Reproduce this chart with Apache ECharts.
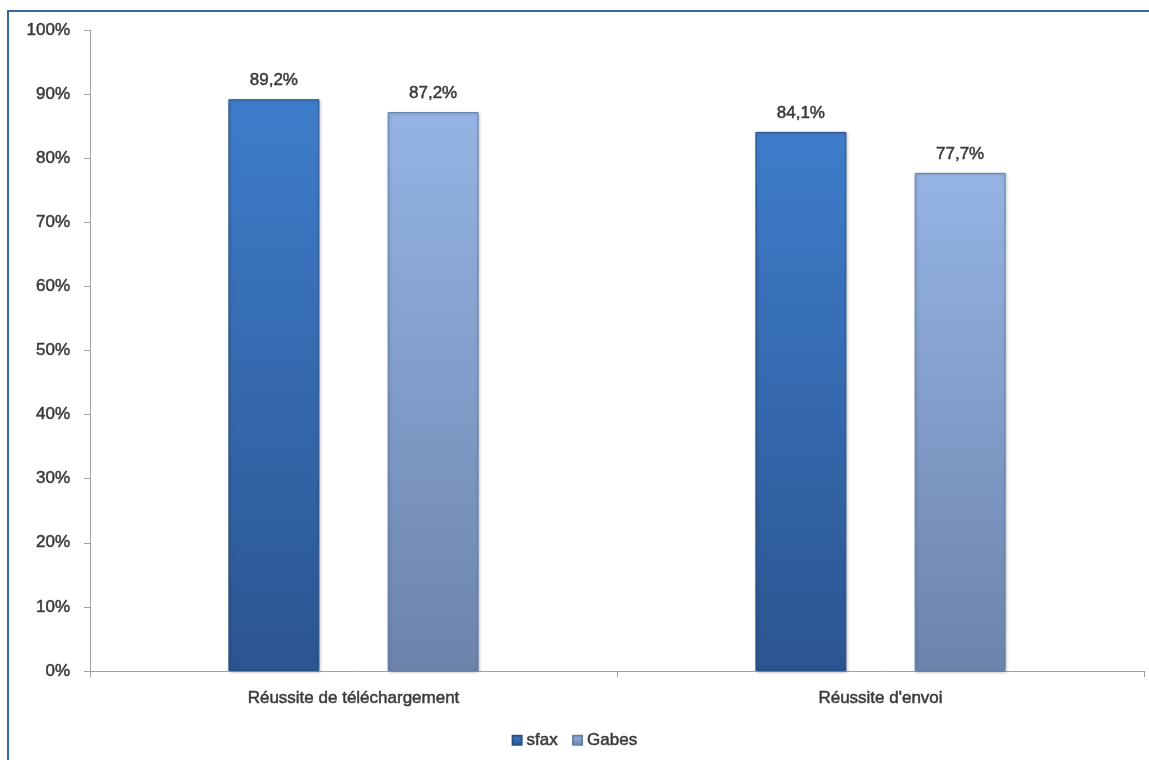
<!DOCTYPE html>
<html><head><meta charset="utf-8">
<script src="https://cdn.jsdelivr.net/npm/echarts@6/dist/echarts.min.js"></script>
<style>html,body{margin:0;padding:0;background:#fff}#c{width:1149px;height:760px}</style>
</head><body><div id="c"></div>
<script>
const categories = ["Réussite de téléchargement", "Réussite d'envoi"];
const sfax = [89.2, 84.1];
const gabes = [87.2, 77.7];
const yTicks = [0,10,20,30,40,50,60,70,80,90,100];

const chart = echarts.init(document.getElementById('c'));
const fmt = v => v.toFixed(1).replace('.', ',') + '%';
function grad(top, bottom){
  return new echarts.graphic.LinearGradient(0,0,0,1,[{offset:0,color:top},{offset:1,color:bottom}]);
}
const font = 'Liberation Sans, Arial, sans-serif';
const txt = {fontFamily:font,fontSize:17,fontWeight:'normal',color:'#3a3a3a',textBorderColor:'#3a3a3a',textBorderWidth:0.5};
chart.setOption({
  animation:false,
  backgroundColor:'#fff',
  graphic:[{type:'rect',shape:{x:8,y:11,width:1200,height:800},style:{fill:'none',stroke:'#3A64A3',lineWidth:2},z:100}],
  grid:{left:90,right:5,top:30,bottom:89},
  legend:{bottom:6,left:'center',icon:'rect',itemWidth:9,itemHeight:9,itemGap:14,
    textStyle:Object.assign({},txt,{padding:[0,0,0,0]}),
    data:['sfax','Gabes']},
  xAxis:{type:'category',data:categories,
    axisLine:{lineStyle:{color:'#A0A0A0'}},
    axisTick:{show:true,length:6,lineStyle:{color:'#A0A0A0'}},
    axisLabel:Object.assign({},txt,{margin:19})},
  yAxis:{type:'value',min:0,max:100,interval:10,
    axisLine:{show:true,lineStyle:{color:'#A0A0A0'}},
    axisTick:{show:true,length:6,lineStyle:{color:'#A0A0A0'}},
    splitLine:{show:false},
    axisLabel:Object.assign({},txt,{margin:20,formatter:v=>v+'%'})},
  series:[
    {name:'sfax',type:'bar',data:sfax,barWidth:91,barGap:'75%',
     itemStyle:{color:grad('#3E7DCB','#2B5590'),borderColor:'#2A5089',borderWidth:1,shadowColor:'rgba(0,0,0,0.25)',shadowBlur:3,shadowOffsetX:1,shadowOffsetY:1},
     label:Object.assign({show:true,position:'top',distance:10,formatter:p=>fmt(p.value)},txt)},
    {name:'Gabes',type:'bar',data:gabes,barWidth:91,
     itemStyle:{color:grad('#95B4E4','#6C84AC'),borderColor:'#6680A8',borderWidth:1,shadowColor:'rgba(0,0,0,0.25)',shadowBlur:3,shadowOffsetX:1,shadowOffsetY:1},
     label:Object.assign({show:true,position:'top',distance:10,formatter:p=>fmt(p.value)},txt)}
  ]
});
</script></body></html>
